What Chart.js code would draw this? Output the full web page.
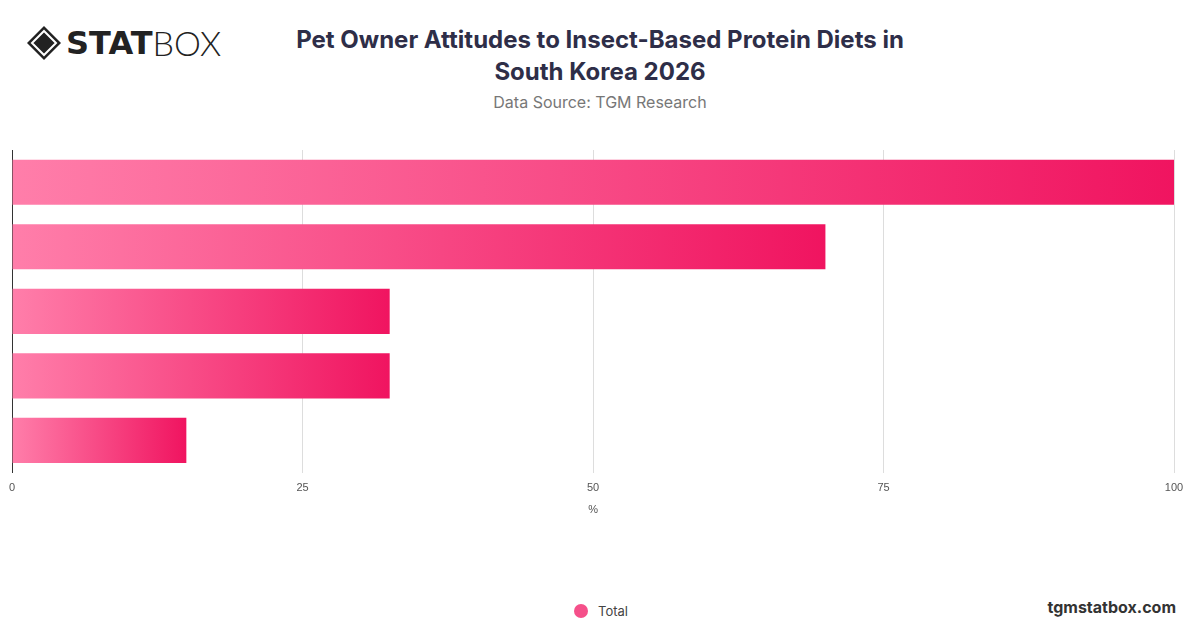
<!DOCTYPE html>
<html><head><meta charset="utf-8">
<script src="https://cdn.jsdelivr.net/npm/chart.js@4"></script>
<style>
html,body{margin:0;padding:0;background:#fff;width:1200px;height:628px;overflow:hidden;font-family:Inter,"Open Sans",sans-serif;}
#logo{position:absolute;left:26px;top:22px;display:flex;align-items:center;font-size:34px;color:#222;letter-spacing:0px}
#title{position:absolute;left:250px;width:700px;top:24px;text-align:center;font-size:24px;font-weight:700;color:#2e2e48;line-height:32px}
#sub{position:absolute;left:250px;width:700px;top:92px;text-align:center;font-size:16px;color:#777}
#wm{position:absolute;right:24px;top:597px;font-size:16px;font-weight:700;color:#333}
#leg{position:absolute;left:574px;top:603px;display:flex;align-items:center;font-size:13px;color:#444}
#leg i{display:inline-block;width:14px;height:14px;border-radius:50%;background:#f5508a;margin-right:10px}
#c{position:absolute;left:0;top:140px}
</style></head><body>
<div id="logo"><svg width="36" height="36" viewBox="0 0 36 36"><path d="M18 1 L35 18 L18 35 L1 18 Z" fill="#222"/><path d="M18 6 L30 18 L18 30 L6 18 Z" fill="none" stroke="#fff" stroke-width="2"/><path d="M18 10 L26 18 L18 26 L10 18 Z" fill="#222"/></svg><span style="font-weight:900;margin-left:4px;font-family:'DejaVu Sans';font-size:32px">STAT</span><span style="font-weight:300;font-family:Lato;font-size:34px">BOX</span></div>
<div id="title">Pet Owner Attitudes to Insect-Based Protein Diets in<br>South Korea 2026</div>
<div id="sub">Data Source: TGM Research</div>
<div id="wm">tgmstatbox.com</div>
<div id="leg"><i></i><span id="legtxt"></span></div>
<canvas id="c" width="1200" height="381"></canvas>
<script>
const categories=["A","B","C","D","E"];
const values=[100,70,32.5,32.5,15];
const seriesName="Total";
document.getElementById('legtxt').textContent=seriesName;
const ctx=document.getElementById('c');
new Chart(ctx,{type:'bar',
data:{labels:categories,datasets:[{label:seriesName,data:values,
backgroundColor:(c)=>{const ch=c.chart;const a=ch.chartArea;if(!a||!ch.scales.x)return '#f5508a';
const x0=a.left, x1=Math.max(ch.scales.x.getPixelForValue(values[c.dataIndex]),x0+1);
const g=ch.ctx.createLinearGradient(x0,0,x1,0);g.addColorStop(0,'#ff7eaa');g.addColorStop(1,'#f01460');return g;},
barPercentage:0.7,categoryPercentage:1}]},
options:{indexAxis:'y',responsive:false,animation:false,
layout:{padding:{left:3,right:26,top:10,bottom:0}},
scales:{x:{min:0,max:100,ticks:{stepSize:25,color:'#555',font:{size:11},padding:9},title:{display:true,text:'%',color:'#555',font:{size:11},padding:{top:0,bottom:4}},grid:{color:'#ddd',drawTicks:false},border:{display:false}},
y:{ticks:{display:false},grid:{display:false},border:{display:true,color:'#333'}}},
plugins:{legend:{display:false},tooltip:{enabled:false}}}});
</script></body></html>
